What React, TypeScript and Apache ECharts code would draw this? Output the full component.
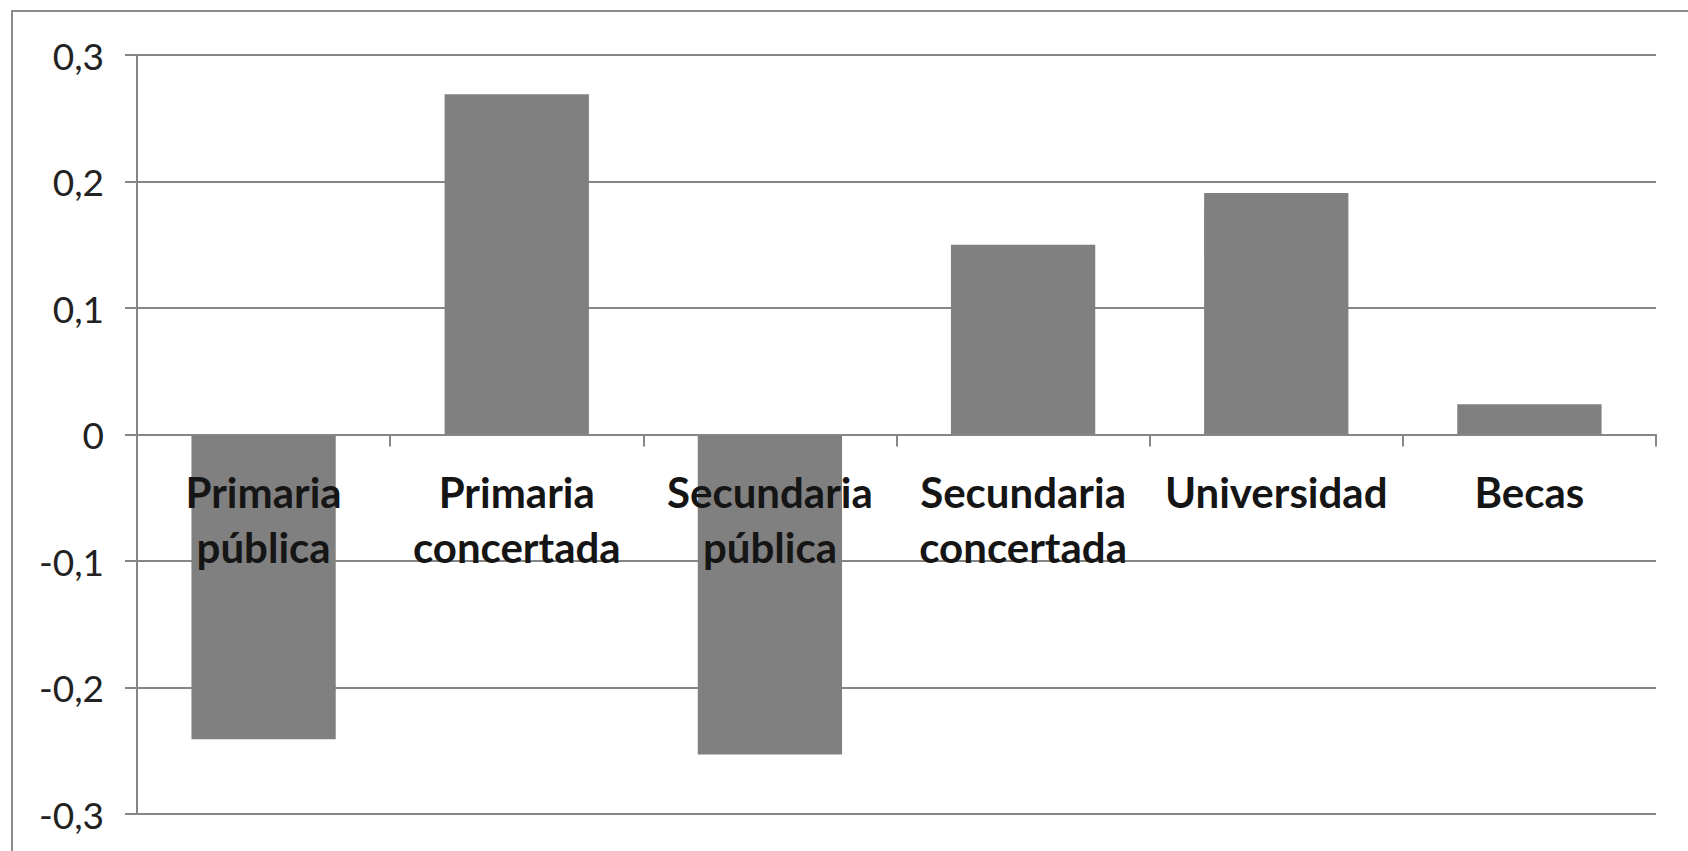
import React, { useEffect, useRef } from "react";
import * as echarts from "echarts";

const categories = [
  "Primaria\npública",
  "Primaria\nconcertada",
  "Secundaria\npública",
  "Secundaria\nconcertada",
  "Universidad",
  "Becas",
];
const values = [-0.241, 0.269, -0.253, 0.15, 0.191, 0.024];
const yMin = -0.3;
const yMax = 0.3;
const yStep = 0.1;

export default function App() {
  const ref = useRef<HTMLDivElement>(null);
  useEffect(() => {
    if (!ref.current) return;
    const chart = echarts.init(ref.current, null, { renderer: "svg" });
    const gray = "#868686";
    const gridTop = 55;
    const gridBottom = 37;
    const height = 851;
    // place category labels just under the zero line
    const plotH = height - gridTop - gridBottom;
    const zeroY = gridTop + (plotH * (yMax - 0)) / (yMax - yMin);
    const labelMargin = 30 - (height - gridBottom - zeroY);
    chart.setOption({
      animation: false,
      backgroundColor: "#ffffff",
      graphic: [
        {
          type: "rect",
          shape: { x: 12, y: 11, width: 1720, height: 900 },
          style: { fill: "none", stroke: "#8c8c8c", lineWidth: 2 },
          silent: true,
        },
      ],
      grid: {
        left: 137,
        right: 32,
        top: gridTop,
        bottom: gridBottom,
        containLabel: false,
        outerBoundsMode: "none",
      },
      xAxis: {
        type: "category",
        data: categories,
        z: 10,
        axisLine: { onZero: true, lineStyle: { color: gray, width: 2 } },
        axisTick: { show: true, length: 12, lineStyle: { color: gray, width: 2 } },
        axisLabel: {
          interval: 0,
          margin: labelMargin,
          color: "#151515",
          fontFamily: "Lato",
          fontWeight: "bold",
          fontSize: 42,
          lineHeight: 55,
        },
      },
      yAxis: {
        type: "value",
        min: yMin,
        max: yMax,
        interval: yStep,
        axisLine: { show: true, lineStyle: { color: gray, width: 2 } },
        axisTick: { show: true, length: 12, lineStyle: { color: gray, width: 2 } },
        splitLine: { show: true, lineStyle: { color: gray, width: 2 } },
        axisLabel: {
          margin: 33,
          color: "#222222",
          fontFamily: "Lato",
          fontSize: 37,
          formatter: (v: number) =>
            Math.abs(v) < 1e-9 ? "0" : v.toFixed(1).replace(".", ","),
        },
      },
      series: [
        {
          type: "bar",
          data: values,
          barCategoryGap: "43%",
          itemStyle: { color: "#808080" },
        },
      ],
    });
    return () => chart.dispose();
  }, []);
  return (
    <div
      ref={ref}
      style={{ position: "fixed", left: 0, top: 0, width: 1688, height: 851 }}
    />
  );
}
